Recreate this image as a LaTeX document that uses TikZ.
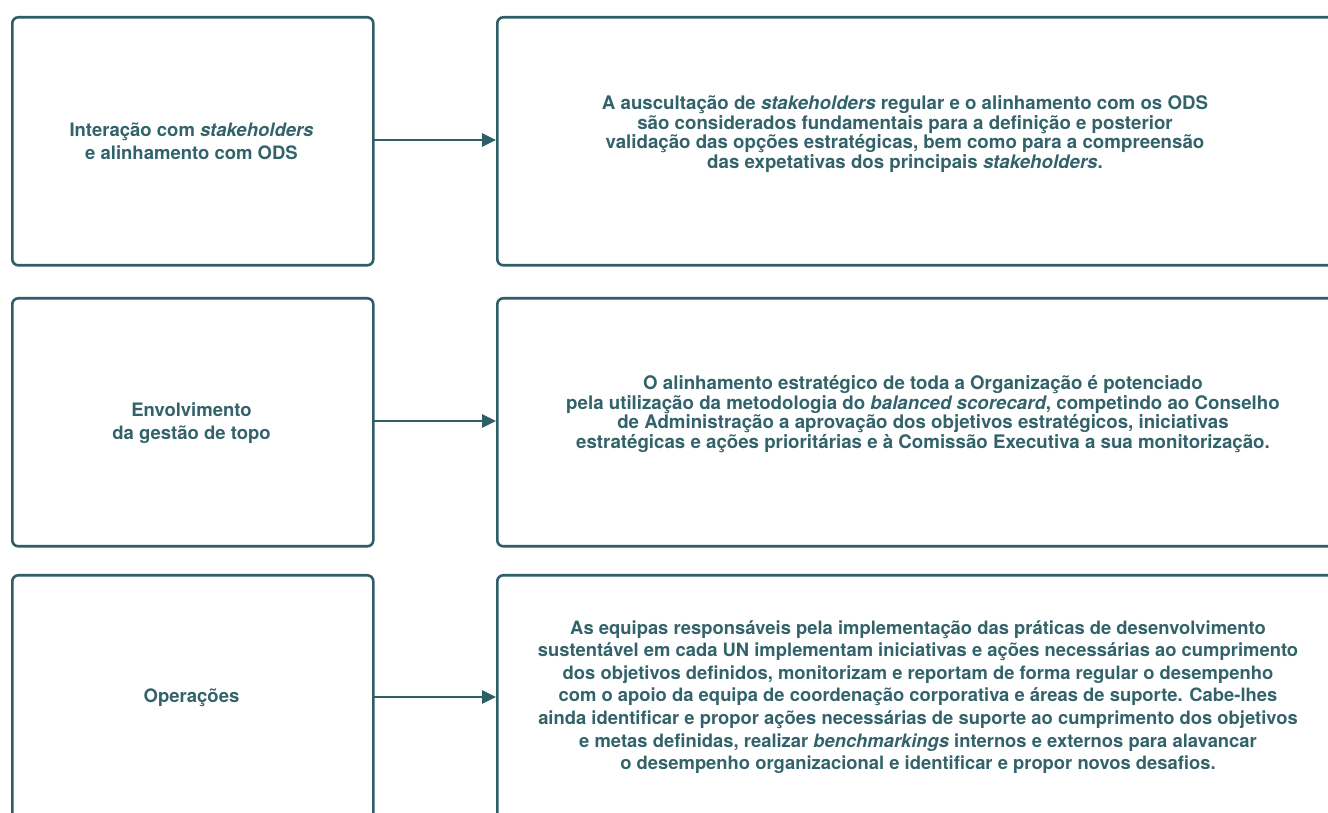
\documentclass[tikz,border=0pt]{standalone}
\usepackage{fontspec}
\setmainfont{TeX Gyre Heros}
\usetikzlibrary{arrows.meta}
\definecolor{teal}{HTML}{2E5E66}
\definecolor{tealtext}{HTML}{33636A}
\tikzset{
  box/.style={draw=teal, line width=2.6pt, rounded corners=6pt, anchor=north west, inner sep=0pt},
  lbl/.style={text=tealtext, font=\bfseries\fontsize{18.5}{23}\selectfont, align=center},
  txt/.style={text=tealtext, font=\bfseries\fontsize{18.7}{19.6}\selectfont, align=center},
  txtb/.style={text=tealtext, font=\bfseries\fontsize{18.4}{22.6}\selectfont, align=center},
  arr/.style={draw=teal, line width=2.8pt, -{Triangle[length=14pt,width=13pt]}}
}
\begin{document}
\begin{tikzpicture}[x=1pt,y=1pt]
\useasboundingbox (0,0) rectangle (1328,812);
\clip (0,0) rectangle (1328,812);
% left boxes
\node[box, minimum width=361pt, minimum height=248pt] (L1) at (11,796) {};
\node[box, minimum width=361pt, minimum height=248pt] (L2) at (11,515) {};
\node[box, minimum width=361pt, minimum height=280pt] (L3) at (11,238) {};
% right boxes (running off the page)
\node[box, minimum width=880pt, minimum height=248pt] (R1) at (496,796) {};
\node[box, minimum width=880pt, minimum height=248pt] (R2) at (496,515) {};
\node[box, minimum width=880pt, minimum height=280pt] (R3) at (496,238) {};
% left labels
\node[lbl] (t1) at (191.5,671) {Interação com \textit{stakeholders}\\e alinhamento com ODS};
\node[lbl] (t2) at (191.5,389) {Envolvimento\\da gestão de topo};
\node[lbl] (t3) at (191.5,114) {Operações};
% right texts
\node[txt] (d1) at (905,678) {A auscultação de \textit{stakeholders} regular e o alinhamento com os ODS\\são considerados fundamentais para a definição e posterior\\validação das opções estratégicas, bem como para a compreensão\\das expetativas dos principais \textit{stakeholders}.};
\node[txt] (d2) at (923,398) {O alinhamento estratégico de toda a Organização é potenciado\\pela utilização da metodologia do \textit{balanced scorecard}, competindo ao Conselho\\de Administração a aprovação dos objetivos estratégicos, iniciativas\\estratégicas e ações prioritárias e à Comissão Executiva a sua monitorização.};
\node[txtb] (d3) at (918,115) {As equipas responsáveis pela implementação das práticas de desenvolvimento\\sustentável em cada UN implementam iniciativas e ações necessárias ao cumprimento\\dos objetivos definidos, monitorizam e reportam de forma regular o desempenho\\com o apoio da equipa de coordenação corporativa e áreas de suporte. Cabe-lhes\\ainda identificar e propor ações necessárias de suporte ao cumprimento dos objetivos\\e metas definidas, realizar \textit{benchmarkings} internos e externos para alavancar\\o desempenho organizacional e identificar e propor novos desafios.};
% connectors
\coordinate (a1) at (372,672);
\coordinate (a2) at (372,391);
\coordinate (a3) at (372,115);
\draw[arr] (a1) -- (R1.west|-a1);
\draw[arr] (a2) -- (R2.west|-a2);
\draw[arr] (a3) -- (R3.west|-a3);
\end{tikzpicture}
\end{document}
